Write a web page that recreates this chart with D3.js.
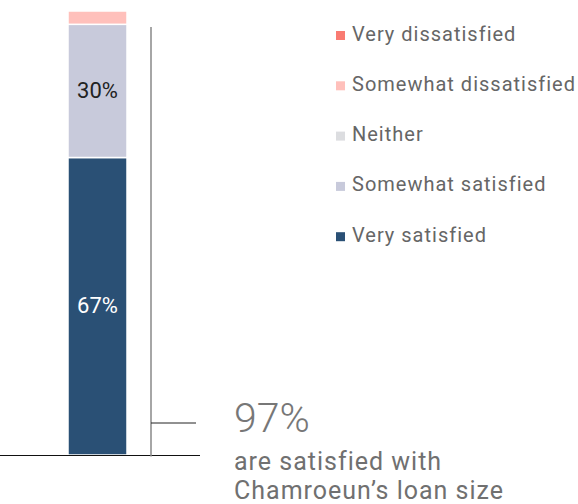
<!DOCTYPE html>
<html><head><meta charset="utf-8">
<script src="https://cdn.jsdelivr.net/npm/d3@7"></script>
<style>
html,body{margin:0;padding:0;background:#fff;}
svg{display:block;}
</style></head>
<body>
<svg id="chart" width="578" height="504"></svg>
<script>
const categories = ["Loan size"];
const seriesNames = ["Very satisfied","Somewhat satisfied","Neither","Somewhat dissatisfied","Very dissatisfied"];
const seriesValues = [67, 30, 0, 3, 0];
const seriesColors = ["#2a5075","#c8cadb","#dcdde0","#ffc0bb","#f97b72"];
const legendOrder = ["Very dissatisfied","Somewhat dissatisfied","Neither","Somewhat satisfied","Very satisfied"];
const labelShown = [true, true, false, false, false];
const calloutValue = "97%";
const calloutText = ["are satisfied with", "Chamroeun\u2019s loan size"];

const svg = d3.select("#chart");
const font = "Roboto, 'Open Sans', sans-serif";

const x = d3.scaleBand().domain(categories).range([68, 127]).padding(0);
const y = d3.scaleLinear().domain([0, 100]).range([455, 11]);

const row = {category: categories[0]};
seriesNames.forEach((s,i)=> row[s] = seriesValues[i]);
const stack = d3.stack().keys(seriesNames)([row]);
const color = d3.scaleOrdinal().domain(seriesNames).range(seriesColors);

const g = svg.append("g");
stack.forEach((layer, i) => {
  const d = layer[0];
  if (d[1] - d[0] <= 0) return;
  const bx = x(d.data.category), bw = x.bandwidth();
  g.append("rect")
    .attr("x", bx)
    .attr("width", bw)
    .attr("y", y(d[1]))
    .attr("height", y(d[0]) - y(d[1]))
    .attr("fill", color(layer.key))
    .attr("stroke", "#fff")
    .attr("stroke-width", 1.5);
  if (labelShown[i]) {
    g.append("text")
      .attr("x", bx + bw/2)
      .attr("y", (y(d[0]) + y(d[1]))/2 + 7)
      .attr("text-anchor", "middle")
      .attr("font-family", font)
      .attr("font-size", 22)
      .attr("fill", i === 0 ? "#ffffff" : "#222222")
      .text(seriesValues[i] + "%");
  }
});

// baseline
svg.append("line").attr("x1", 0).attr("x2", 200).attr("y1", y(0)+0.5).attr("y2", y(0)+0.5)
  .attr("stroke", "#111").attr("stroke-width", 1.2);
// vertical line
svg.append("line").attr("x1", 151).attr("x2", 151).attr("y1", 27).attr("y2", y(0)+1.5)
  .attr("stroke", "#888").attr("stroke-width", 1.5);
// tick to callout
svg.append("line").attr("x1", 151).attr("x2", 196).attr("y1", 423).attr("y2", 423)
  .attr("stroke", "#222").attr("stroke-width", 1);

// legend
const lg = svg.append("g");
legendOrder.forEach((name, i) => {
  const yy = 40.5 + i * 50.3;
  lg.append("rect").attr("x", 336).attr("y", yy - 9.5).attr("width", 9).attr("height", 9)
    .attr("fill", color(name));
  lg.append("text").attr("x", 352).attr("y", yy)
    .attr("font-family", font).attr("font-size", 20).attr("fill", "#666")
    .attr("letter-spacing", "1px")
    .text(name);
});

// callout
svg.append("text").attr("x", 234).attr("y", 432)
  .attr("font-family", font).attr("font-size", 41).attr("font-weight", 300).attr("fill", "#777")
  .text(calloutValue);
calloutText.forEach((t, i) => {
  svg.append("text").attr("x", 234).attr("y", 470 + i*29)
    .attr("font-family", font).attr("font-size", 25).attr("fill", "#707070")
    .attr("letter-spacing", "1px")
    .text(t);
});
</script>
</body></html>
